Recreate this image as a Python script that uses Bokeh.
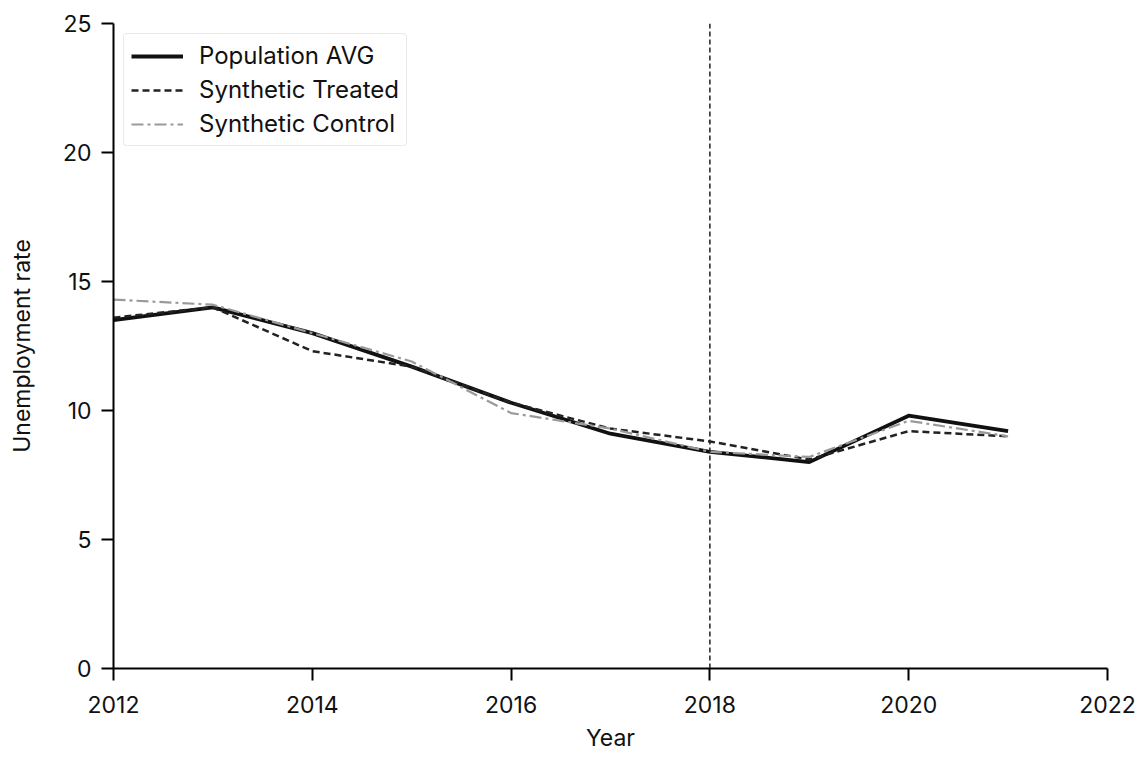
from bokeh.plotting import figure
from bokeh.models import Span, Legend, LegendItem, Range1d, FixedTicker
from bokeh.embed import file_html
from bokeh.resources import INLINE

years = [2012, 2013, 2014, 2015, 2016, 2017, 2018, 2019, 2020, 2021]
population_avg = [13.5, 14.0, 13.0, 11.7, 10.3, 9.1, 8.4, 8.0, 9.8, 9.2]
synthetic_treated = [13.6, 14.0, 12.3, 11.7, 10.3, 9.3, 8.8, 8.1, 9.2, 9.0]
synthetic_control = [14.3, 14.1, 13.0, 11.9, 9.9, 9.3, 8.4, 8.2, 9.6, 9.0]
treatment_year = 2018
x_ticks = [2012, 2014, 2016, 2018, 2020, 2022]
y_ticks = [0, 5, 10, 15, 20, 25]

FONT = "Inter"
TXT = "#111111"

p = figure(width=1139, height=754, output_backend="svg", toolbar_location=None,
           x_range=Range1d(2012, 2022), y_range=Range1d(0, 25),
           min_border_left=113, min_border_right=32, min_border_top=23, min_border_bottom=86)
p.outline_line_color = None
p.xgrid.visible = False
p.ygrid.visible = False
p.background_fill_color = "white"

r1 = p.line(years, population_avg, line_color="#111111", line_width=3.8)
r2 = p.line(years, synthetic_treated, line_color="#222222", line_width=2.5, line_dash="7 4")
r3 = p.line(years, synthetic_control, line_color="#9a9a9a", line_width=2.2, line_dash="12 4 3 4")

vline = Span(location=treatment_year, dimension="height", line_color="#222222",
             line_width=1.5, line_dash="5 3")
p.add_layout(vline)

for ax in (p.xaxis[0], p.yaxis[0]):
    ax.axis_line_width = 2
    ax.axis_line_color = "black"
    ax.major_tick_line_width = 2
    ax.major_tick_line_color = "black"
    ax.major_tick_out = 12
    ax.major_tick_in = 0
    ax.minor_tick_line_color = None
    ax.major_label_text_font = FONT
    ax.major_label_text_font_size = "23px"
    ax.major_label_text_color = TXT
    ax.axis_label_text_font = FONT
    ax.axis_label_text_font_size = "23px"
    ax.axis_label_text_font_style = "normal"
    ax.axis_label_text_color = TXT

p.xaxis[0].ticker = FixedTicker(ticks=x_ticks)
p.yaxis[0].ticker = FixedTicker(ticks=y_ticks)
p.xaxis[0].axis_label = "Year"
p.yaxis[0].axis_label = "Unemployment rate"
p.xaxis[0].major_label_standoff = 15
p.yaxis[0].major_label_standoff = 10
p.xaxis[0].axis_label_standoff = 8
p.yaxis[0].axis_label_standoff = 24

legend = Legend(items=[
    LegendItem(label="Population AVG", renderers=[r1]),
    LegendItem(label="Synthetic Treated", renderers=[r2]),
    LegendItem(label="Synthetic Control", renderers=[r3]),
], location="top_left")
legend.label_text_font = FONT
legend.label_text_font_size = "24px"
legend.label_text_color = TXT
legend.glyph_width = 52
legend.glyph_height = 22
legend.label_height = 22
legend.label_standoff = 16
legend.spacing = 5
legend.padding = 7
legend.margin = 10
legend.border_line_color = "#d6d6d6"
legend.border_line_width = 1.5
legend.border_radius = 4
legend.background_fill_alpha = 1.0
p.add_layout(legend)

open("out.html", "w").write(file_html(p, INLINE))
